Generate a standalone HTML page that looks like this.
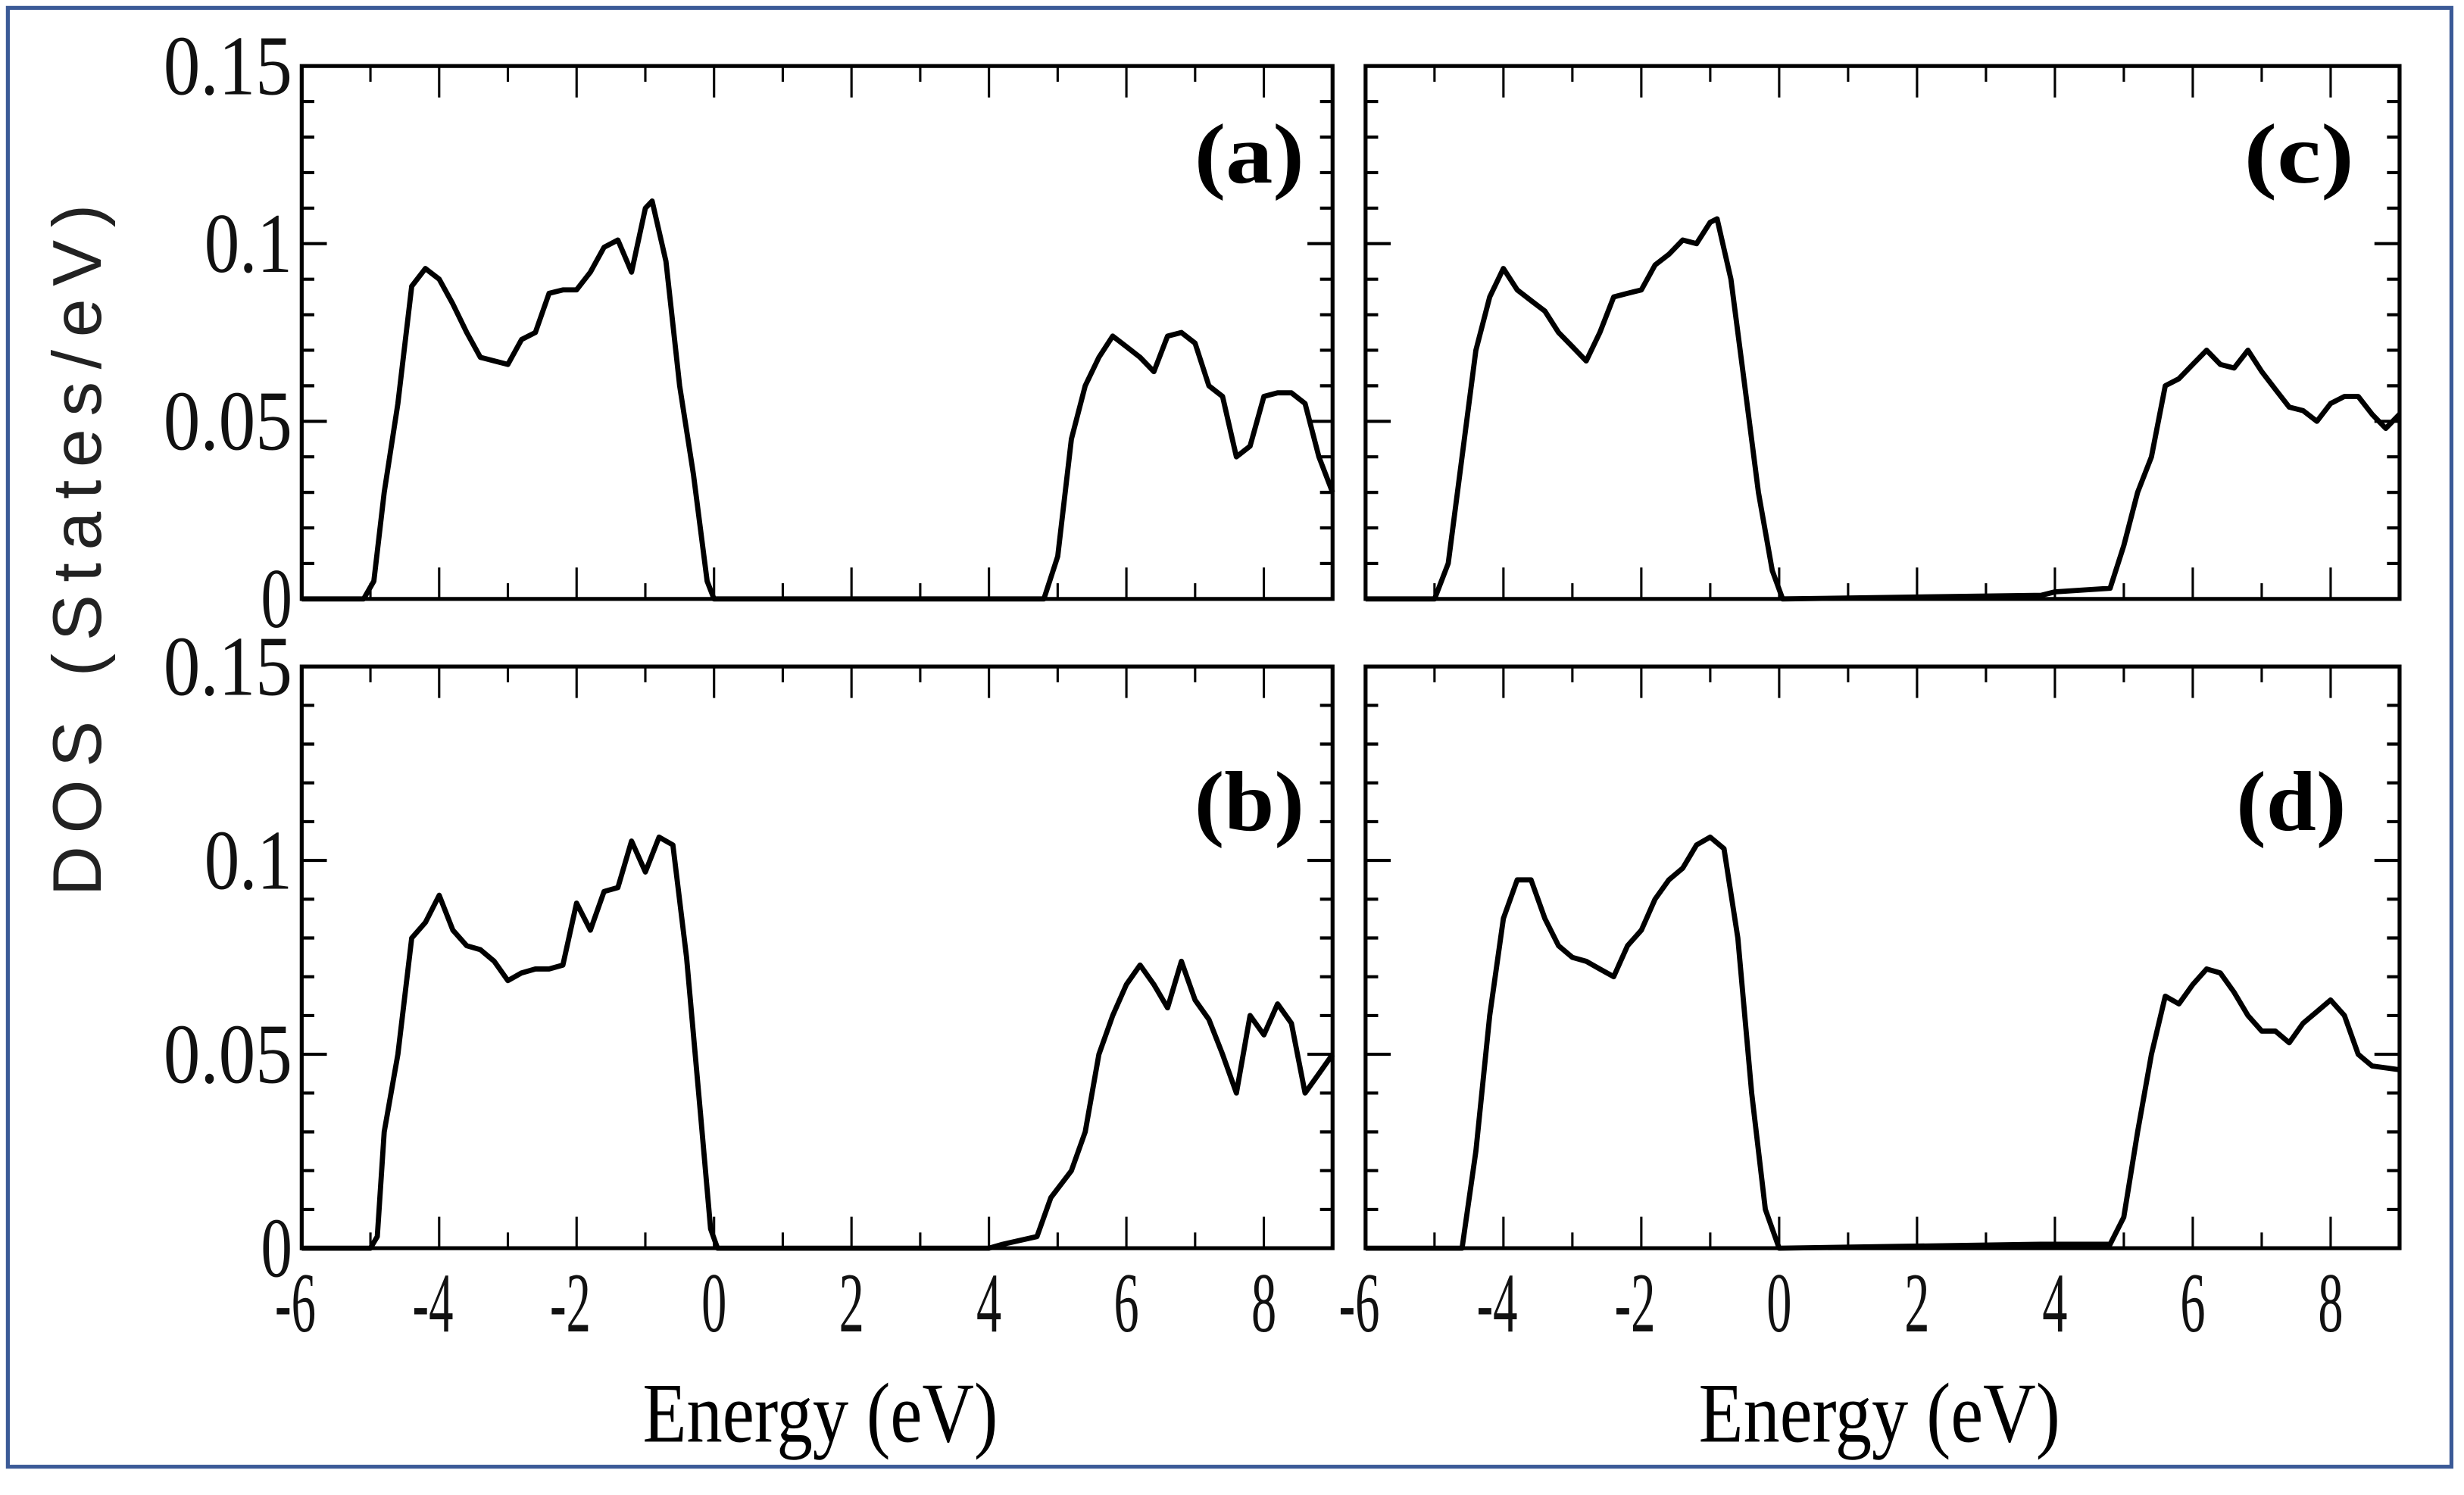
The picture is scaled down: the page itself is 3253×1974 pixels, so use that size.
<!DOCTYPE html>
<html><head><meta charset="utf-8"><style>
html,body{margin:0;padding:0;background:#fff;}
svg{display:block;}
</style></head><body>
<svg id="fig" xmlns="http://www.w3.org/2000/svg" width="3253" height="1974" viewBox="0 0 1568 951" preserveAspectRatio="none">
<rect x="5" y="5" width="1555" height="928" fill="none" stroke="#3b5a97" stroke-width="2.5"/>
<text transform="translate(64,350) rotate(-90)" text-anchor="middle" font-family="'Liberation Sans',sans-serif" font-size="44" fill="#222" textLength="440" lengthAdjust="spacing">DOS (States/eV)</text>
<text x="522" y="917" text-anchor="middle" font-family="'Liberation Serif',serif" font-size="54" textLength="226" lengthAdjust="spacingAndGlyphs">Energy (eV)</text>
<text x="1196" y="917" text-anchor="middle" font-family="'Liberation Serif',serif" font-size="54" textLength="230" lengthAdjust="spacingAndGlyphs">Energy (eV)</text>
<g id="plots"></g>
</svg>
<script>
const xTicks = [-6,-4,-2,0,2,4,6,8];
const yTicks = [0,0.05,0.1,0.15];
const yTickLabels = ['0','0.05','0.1','0.15'];
const panelLabels = ['(a)','(c)','(b)','(d)'];
const energyA = [-6,-5.1,-4.95,-4.8,-4.6,-4.4,-4.2,-4.0,-3.8,-3.6,-3.4,-3.2,-3.0,-2.8,-2.6,-2.4,-2.2,-2.0,-1.8,-1.6,-1.4,-1.2,-1.0,-0.9,-0.7,-0.5,-0.3,-0.1,0,4.8,5.0,5.2,5.4,5.6,5.8,6.0,6.2,6.4,6.6,6.8,7.0,7.2,7.4,7.6,7.8,8.0,8.2,8.4,8.6,8.8,9.0];
const dosA = [0,0,0.005,0.03,0.055,0.088,0.093,0.09,0.083,0.075,0.068,0.067,0.066,0.073,0.075,0.086,0.087,0.087,0.092,0.099,0.101,0.092,0.110,0.112,0.095,0.06,0.035,0.005,0,0,0.012,0.045,0.06,0.068,0.074,0.071,0.068,0.064,0.074,0.075,0.072,0.06,0.057,0.04,0.043,0.057,0.058,0.058,0.055,0.04,0.03];
const energyC = [-6,-5.0,-4.8,-4.6,-4.4,-4.2,-4.0,-3.8,-3.6,-3.4,-3.2,-3.0,-2.8,-2.6,-2.4,-2.2,-2.0,-1.8,-1.6,-1.4,-1.2,-1.0,-0.9,-0.7,-0.5,-0.3,-0.1,0.05,3.8,4.0,4.8,5.0,5.2,5.4,5.6,5.8,6.0,6.2,6.4,6.6,6.8,7.0,7.2,7.4,7.6,7.8,8.0,8.2,8.4,8.6,8.8,9.0];
const dosC = [0,0,0.01,0.04,0.07,0.085,0.093,0.087,0.084,0.081,0.075,0.071,0.067,0.075,0.085,0.086,0.087,0.094,0.097,0.101,0.1,0.106,0.107,0.09,0.06,0.03,0.008,0,0.001,0.002,0.003,0.015,0.03,0.04,0.06,0.062,0.066,0.07,0.066,0.065,0.07,0.064,0.059,0.054,0.053,0.05,0.055,0.057,0.057,0.052,0.048,0.052];
const energyB = [-6,-5.0,-4.9,-4.8,-4.6,-4.4,-4.2,-4.0,-3.8,-3.6,-3.4,-3.2,-3.0,-2.8,-2.6,-2.4,-2.2,-2.0,-1.8,-1.6,-1.4,-1.2,-1.0,-0.8,-0.6,-0.4,-0.2,-0.05,0.05,4.0,4.2,4.7,4.9,5.2,5.4,5.6,5.8,6.0,6.2,6.4,6.6,6.8,7.0,7.2,7.4,7.6,7.8,8.0,8.2,8.4,8.6,8.8,9.0];
const dosB = [0,0,0.003,0.03,0.05,0.08,0.084,0.091,0.082,0.078,0.077,0.074,0.069,0.071,0.072,0.072,0.073,0.089,0.082,0.092,0.093,0.105,0.097,0.106,0.104,0.075,0.035,0.005,0,0,0.001,0.003,0.013,0.02,0.03,0.05,0.06,0.068,0.073,0.068,0.062,0.074,0.064,0.059,0.05,0.04,0.06,0.055,0.063,0.058,0.04,0.045,0.05];
const energyD = [-6,-4.6,-4.4,-4.2,-4.0,-3.8,-3.6,-3.4,-3.2,-3.0,-2.8,-2.6,-2.4,-2.2,-2.0,-1.8,-1.6,-1.4,-1.2,-1.0,-0.8,-0.6,-0.4,-0.2,0,3.8,4.8,5.0,5.2,5.4,5.6,5.8,6.0,6.2,6.4,6.6,6.8,7.0,7.2,7.4,7.6,7.8,8.0,8.2,8.4,8.6,9.0];
const dosD = [0,0,0.025,0.06,0.085,0.095,0.095,0.085,0.078,0.075,0.074,0.072,0.07,0.078,0.082,0.09,0.095,0.098,0.104,0.106,0.103,0.08,0.04,0.01,0,0.001,0.001,0.008,0.03,0.05,0.065,0.063,0.068,0.072,0.071,0.066,0.06,0.056,0.056,0.053,0.058,0.061,0.064,0.06,0.05,0.047,0.046];

const panels = [
  {name:'a', x0:192, x1:848, y0:42, y1:381, e:energyA, d:dosA, lab:panelLabels[0], lx:795, ly:116, yl:true, xl:false},
  {name:'c', x0:869, x1:1527, y0:42, y1:381, e:energyC, d:dosC, lab:panelLabels[1], lx:1463, ly:116, yl:false, xl:false},
  {name:'b', x0:192, x1:848, y0:424, y1:794, e:energyB, d:dosB, lab:panelLabels[2], lx:795, ly:528, yl:true, xl:true},
  {name:'d', x0:869, x1:1527, y0:424, y1:794, e:energyD, d:dosD, lab:panelLabels[3], lx:1458, ly:528, yl:false, xl:true}
];
const NS='http://www.w3.org/2000/svg';
const root=document.getElementById('plots');
function mk(tag, attrs, parent){const el=document.createElementNS(NS,tag);for(const k in attrs)el.setAttribute(k,attrs[k]);parent.appendChild(el);return el;}
panels.forEach(p=>{
  const g=mk('g',{},root);
  
  
  const sx=v=>p.x0+(v+6)/15*(p.x1-p.x0);
  const sy=v=>p.y1-v/0.15*(p.y1-p.y0);
  for(let v=-6;v<=9;v++){
    const len=(v%2===0)?20:10;
    const x=sx(v);
    const t1=mk('line',{x1:x,x2:x,y1:p.y1,y2:p.y1-len,stroke:'#000','stroke-width':1.5},g);
    
    
    const t2=mk('line',{x1:x,x2:x,y1:p.y0,y2:p.y0+len,stroke:'#000','stroke-width':1.5},g);
    
    
  }
  for(let i=0;i<=15;i++){
    const v=i*0.01;const len=(i%5===0)?16:8;const y=sy(v);
    const t1=mk('line',{x1:p.x0,x2:p.x0+len,y1:y,y2:y,stroke:'#000','stroke-width':2},g);
    
    
    const t2=mk('line',{x1:p.x1,x2:p.x1-len,y1:y,y2:y,stroke:'#000','stroke-width':2},g);
    
    
  }
  const fr=mk('rect',{x:p.x0,y:p.y0,width:p.x1-p.x0,height:p.y1-p.y0,fill:'none',stroke:'#000','stroke-width':2.5},g);
  
  
  const pts=p.e.map((e,i)=>sx(e).toFixed(1)+','+sy(p.d[i]).toFixed(1)).join(' ');
  const line=mk('polyline',{points:pts,fill:'none',stroke:'#000','stroke-width':3.3,'stroke-linejoin':'round'},g);
  
  
  const lt=mk('text',{x:p.lx,y:p.ly,'text-anchor':'middle','font-family':"'Liberation Serif',serif",'font-weight':'bold','font-size':54,textLength:70,lengthAdjust:'spacingAndGlyphs'},g);
  lt.textContent=p.lab;
  
  
  if(p.yl){
    yTicks.forEach((v,i)=>{
      const t=mk('text',{x:186,y:sy(v)+18,'text-anchor':'end','font-family':"'Liberation Serif',serif",'font-size':54,fill:'#111'},g);
      t.textContent=yTickLabels[i];
      t.setAttribute('textLength',[20,82,56,82][i]);
      t.setAttribute('lengthAdjust','spacingAndGlyphs');
      
      
    });
  }
  if(p.xl){
    xTicks.forEach(v=>{
      const t=mk('text',{x:sx(v)-(v<0?4:0),y:847,'text-anchor':'middle','font-family':"'Liberation Serif',serif",'font-size':54,fill:'#111'},g);
      t.textContent=String(v);
      t.setAttribute('textLength',v<0?26:16);
      t.setAttribute('lengthAdjust','spacingAndGlyphs');
      
      
    });
  }
});
</script>
</body></html>
